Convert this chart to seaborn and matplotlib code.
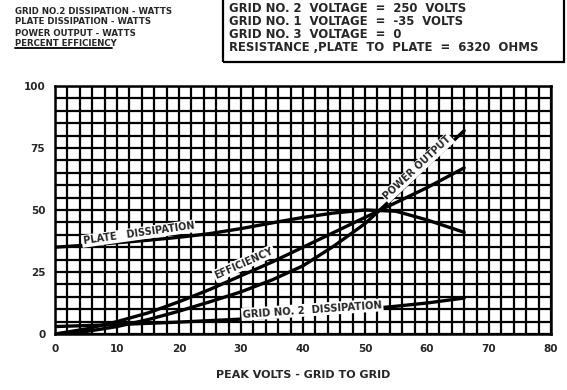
import numpy as np
import pandas as pd
import seaborn as sns
import matplotlib.pyplot as plt

# peak volts grid to grid
volts = [0, 5, 10, 15, 20, 25, 30, 35, 40, 45, 50, 55, 60, 66]
plate_diss = [35, 35.8, 36.8, 37.8, 39, 40.5, 42.5, 44.8, 47, 48.8, 50, 49.5, 46, 41]
power_out = [0, 1, 3, 5.8, 9.2, 13, 17, 21.8, 27.5, 35.5, 44.5, 56, 68, 82]
efficiency = [0, 2, 5, 8.5, 13, 18, 23.5, 29, 35, 41, 47, 53, 59, 67]
grid2_diss = [3, 3.4, 3.8, 4.3, 4.8, 5.4, 6, 6.9, 7.8, 8.9, 10, 11.2, 12.5, 14.5]

x_ticks = [0, 10, 20, 30, 40, 50, 60, 70, 80]
y_ticks = [0, 25, 50, 75, 100]

header_left = ["GRID NO.2 DISSIPATION - WATTS", "PLATE DISSIPATION - WATTS",
               "POWER OUTPUT - WATTS", "PERCENT EFFICIENCY"]
header_box = ["GRID NO. 2  VOLTAGE  =  250  VOLTS", "GRID NO. 1  VOLTAGE  =  -35  VOLTS",
              "GRID NO. 3  VOLTAGE  =  0", "RESISTANCE ,PLATE  TO  PLATE  =  6320  OHMS"]

df = pd.DataFrame({"volts": volts, "plate": plate_diss, "power": power_out,
                   "eff": efficiency, "grid2": grid2_diss})

sns.set_style("white")
plt.rcParams['font.family'] = ['DejaVu Sans']
plt.rcParams['font.weight'] = 'bold'

W, H = 567, 390
fig = plt.figure(figsize=(W / 100, H / 100), dpi=100)
ax = fig.add_axes([55 / W, 1 - 334 / H, 496 / W, 248 / H])

for col in ["plate", "power", "eff", "grid2"]:
    sns.lineplot(data=df, x="volts", y=col, ax=ax, color="black", linewidth=2.4)

ax.set_xlim(0, 80)
ax.set_ylim(0, 100)
ax.set_xticks(np.arange(0, 81, 2), minor=True)
ax.set_yticks(np.arange(0, 101, 5), minor=True)
ax.set_xticks(x_ticks)
ax.set_yticks(y_ticks)
ax.grid(which="both", color="black", linewidth=1.6)
ax.set_axisbelow(True)
for s in ax.spines.values():
    s.set_color("black")
    s.set_linewidth(1.8)
ax.tick_params(which="both", length=0, labelsize=7.5, pad=7)
ax.set_xticklabels([str(t) for t in x_ticks], fontweight="bold")
ax.set_yticklabels([str(t) for t in y_ticks], fontweight="bold")
ax.set_xlabel("PEAK VOLTS - GRID TO GRID", fontsize=8, fontweight="bold", labelpad=12)
ax.set_ylabel("")

box = dict(facecolor="white", edgecolor="none", pad=1.0)
ax.text(13.5, 40.5, "PLATE   DISSIPATION", rotation=8, fontsize=7, ha="center", va="center", bbox=box)
ax.text(30.5, 28.5, "EFFICIENCY", rotation=24, fontsize=7, ha="center", va="center", bbox=box)
ax.text(58.5, 67, "POWER OUTPUT", rotation=43, fontsize=7, ha="center", va="center", bbox=box)
ax.text(41.5, 9.8, "GRID NO. 2  DISSIPATION", rotation=4, fontsize=7.2, ha="center", va="center", bbox=box)

for i, t in enumerate(header_left):
    fig.text(15 / W, 1 - (11 + i * 11) / H, t, fontsize=6.2, fontweight="bold", va="center")
# underline last header line
fig.add_artist(plt.Line2D([15 / W, 112 / W], [1 - 48 / H, 1 - 48 / H], color="black", linewidth=1.3))

fig.add_artist(plt.Rectangle((223 / W, 1 - 62 / H), 341 / W, 64 / H, fill=False,
                             edgecolor="black", linewidth=1.6))
for i, t in enumerate(header_box):
    fig.text(229 / W, 1 - (9 + i * 12.7) / H, t, fontsize=8.4, fontweight="bold", va="center")

fig.savefig("out.png", dpi=100)
